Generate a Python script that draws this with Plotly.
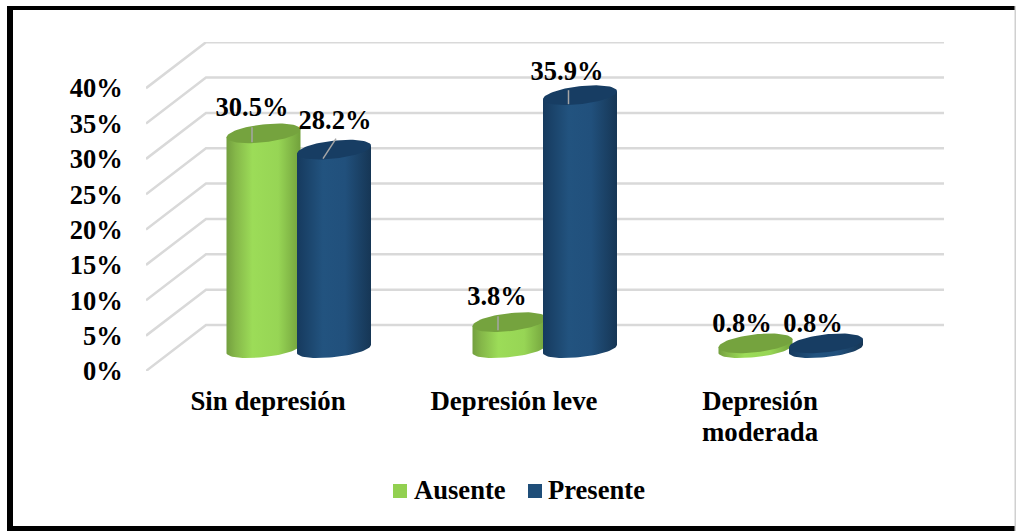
import numpy as np
import plotly.graph_objects as go

# Chart data
categories = ["Sin depresión", "Depresión leve", "Depresión moderada"]
series_names = ["Ausente", "Presente"]
ausente = [30.5, 3.8, 0.8]
presente = [28.2, 35.9, 0.8]
tick_values = [0, 5, 10, 15, 20, 25, 30, 35, 40]
tick_labels = ["0%", "5%", "10%", "15%", "20%", "25%", "30%", "35%", "40%"]

# Frame of the plot in pixels
W, H = 1016, 531
LEFT, RIGHT, TOP, BOTTOM = 146, 944, 42, 371
PX_PER_CAT = 246.0
PX_PER_PCT = 7.07
X0_PX = 268.0  # pixel position of the first category tick

XMIN = (LEFT - X0_PX) / PX_PER_CAT
XMAX = (RIGHT - X0_PX) / PX_PER_CAT
YMAX = (BOTTOM - TOP) / PX_PER_PCT


def dx(px):
    return px / PX_PER_CAT


def dy(px):
    return px / PX_PER_PCT


def px_x(p):
    return (p - LEFT) / (RIGHT - LEFT)


def px_y(p):
    return (BOTTOM - p) / (BOTTOM - TOP)


# Oblique projection of the depth axis
DEPTH_X = dx(60)
DEPTH_Y = dy(46)

# Cylinder geometry (pixels)
RADIUS = 37.0
MINOR_TOP = 9.0
MINOR_BASE = 8.2
TILT = 4.0
BASE_X = dx(30)
BASE_Y = dy(22)
SERIES_SHIFT = {"Ausente": dx(-34.5), "Presente": dx(36)}

GREEN_SIDE = [[0, "#739f3f"], [0.12, "#85b749"], [0.35, "#9cdc58"], [0.7, "#97d555"], [1, "#72a13c"]]
BLUE_SIDE = [[0, "#163a5e"], [0.35, "#22537f"], [0.65, "#21507c"], [1, "#163655"]]
GREEN_TOP = "#75a33e"
BLUE_TOP = "#173d63"
GREEN_KEY = "#92d050"
BLUE_KEY = "#1f4e79"


def rim(cx, level, t, minor):
    """Points of a tilted ellipse centred on (cx, level) in data units."""
    x = cx + dx(RADIUS) * np.cos(t)
    y = level + dy(TILT) * np.cos(t) - dy(minor) * np.sin(t)
    return x, y


fig = go.Figure()

# Receding grid: diagonal on the side wall, then across the back wall
grid_x, grid_y = [], []
for v in tick_values:
    grid_x += [XMIN, XMIN + DEPTH_X, XMAX, None]
    grid_y += [v, v + DEPTH_Y, v + DEPTH_Y, None]
fig.add_trace(go.Scatter(x=grid_x, y=grid_y, mode="lines", cliponaxis=False,
                         line=dict(color="#d9d9d9", width=2.5),
                         hoverinfo="skip", showlegend=False))


def add_cylinder(cx, value, side, top):
    base = BASE_Y
    level = base + value
    lower = np.linspace(0, np.pi, 40)
    bx, by = rim(cx, base, lower, MINOR_BASE)
    tx, ty = rim(cx, level, np.array([np.pi, 0.0]), MINOR_TOP)
    xs = np.concatenate([bx, tx, bx[:1]])
    ys = np.concatenate([by, ty, by[:1]])
    fig.add_trace(go.Scatter(x=xs, y=ys, mode="lines", fill="toself", cliponaxis=False,
                             line=dict(width=0),
                             fillgradient=dict(type="horizontal", colorscale=side),
                             hoverinfo="skip", showlegend=False))
    around = np.linspace(0, 2 * np.pi, 80)
    ex, ey = rim(cx, level, around, MINOR_TOP)
    fig.add_trace(go.Scatter(x=ex, y=ey, mode="lines", fill="toself", fillcolor=top,
                             cliponaxis=False, line=dict(width=0, color=top),
                             hoverinfo="skip", showlegend=False))


for i in range(len(categories)):
    add_cylinder(i + BASE_X + SERIES_SHIFT["Ausente"], ausente[i], GREEN_SIDE, GREEN_TOP)
    add_cylinder(i + BASE_X + SERIES_SHIFT["Presente"], presente[i], BLUE_SIDE, BLUE_TOP)

# Leader lines from the labels down onto the cylinder tops (pixel offsets from the top centre)
leaders = [
    ("Ausente", 0, ausente[0], (-11.5, 9), (-11.5, -6)),
    ("Presente", 0, presente[0], (-11, 9), (2, -11)),
    ("Ausente", 1, ausente[1], (-11.5, 8), (-11.5, -6)),
    ("Presente", 1, presente[1], (-11.5, 9), (-11.5, -5)),
]
for name, i, value, p0, p1 in leaders:
    cx = i + BASE_X + SERIES_SHIFT[name]
    fig.add_trace(go.Scatter(
        x=[cx + dx(p0[0]), cx + dx(p1[0])],
        y=[BASE_Y + value - dy(p0[1]), BASE_Y + value - dy(p1[1])],
        mode="lines", cliponaxis=False, line=dict(color="#a6a6a6", width=1.5),
        hoverinfo="skip", showlegend=False))

# Value labels, nudged off the cylinder tops
label_nudge = {
    "Ausente": [(-11.5, 24), (-12.5, 24), (-13.5, 18)],
    "Presente": [(1, 27), (-13, 22), (-13, 18)],
}
for name, values in (("Ausente", ausente), ("Presente", presente)):
    lx = [i + BASE_X + SERIES_SHIFT[name] + dx(label_nudge[name][i][0]) for i in range(len(values))]
    ly = [BASE_Y + v + dy(label_nudge[name][i][1]) for i, v in enumerate(values)]
    fig.add_trace(go.Scatter(x=lx, y=ly, mode="text", cliponaxis=False,
                             text=[f"{v:.1f}%" for v in values],
                             textposition="middle center",
                             textfont=dict(family="Liberation Serif", size=26.5, color="#000000", weight="bold"),
                             hoverinfo="skip", showlegend=False))

# Black border around the whole graphic
border = [(7, 6, 13, 531), (7, 6, 1015, 10), (7, 526, 1015, 531)]
shapes = [dict(type="rect", xref="paper", yref="paper", x0=px_x(a), x1=px_x(c), y0=px_y(b), y1=px_y(d),
               fillcolor="#000000", line=dict(width=0), layer="above") for a, b, c, d in border]
shapes.append(dict(type="rect", xref="paper", yref="paper", x0=px_x(1014.5), x1=px_x(1016), y0=px_y(6), y1=px_y(531),
                   fillcolor="#d0d0d0", line=dict(width=0), layer="above"))

# Series key below the plot: a square followed by the series name
annotations = []
for name, colour, key_px, text_px in zip(series_names, (GREEN_KEY, BLUE_KEY), (393, 528), (413, 547)):
    shapes.append(dict(type="rect", xref="paper", yref="paper", x0=px_x(key_px), x1=px_x(key_px + 14),
                       y0=px_y(484), y1=px_y(498), fillcolor=colour, line=dict(width=0), layer="above"))
    annotations.append(dict(xref="paper", yref="paper", x=px_x(text_px), y=px_y(490),
                            text=name, showarrow=False, xanchor="left", yanchor="middle",
                            xshift=0, borderpad=0,
                            font=dict(family="Liberation Serif", size=26.6, color="#000000", weight="bold")))

# The last category wraps onto a second line set a little tighter than the tick font's leading
tick_text = [c.split(" ")[0] if c.endswith("moderada") else c for c in categories]
annotations.append(dict(xref="x", yref="paper", x=2, y=px_y(432), text=categories[2].split(" ")[1],
                        showarrow=False, xanchor="center", yanchor="middle", borderpad=0,
                        font=dict(family="Liberation Serif", size=26.8, color="#000000", weight="bold")))

AXIS_FONT = dict(family="Liberation Serif", size=26.5, color="#000000", weight="bold")
fig.update_layout(
    width=W, height=H, autosize=False,
    margin=dict(l=LEFT, r=W - RIGHT, t=TOP, b=H - BOTTOM, pad=0),
    paper_bgcolor="#ffffff", plot_bgcolor="#ffffff",
    shapes=shapes,
    annotations=annotations,
    showlegend=False,
    xaxis=dict(range=[XMIN, XMAX], tickmode="array", tickvals=list(range(len(categories))),
               ticktext=tick_text, showgrid=False, zeroline=False, showline=False,
               ticks="outside", ticklen=6, tickcolor="rgba(0,0,0,0)",
               tickfont=dict(family="Liberation Serif", size=26.8, color="#000000", weight="bold"),
               tickangle=0),
    yaxis=dict(range=[0, YMAX], tickmode="array", tickvals=tick_values, ticktext=tick_labels,
               showgrid=False, zeroline=False, showline=False,
               ticks="outside", ticklen=17, tickcolor="rgba(0,0,0,0)", tickfont=AXIS_FONT),
)

fig.write_html("out.html", config={"displayModeBar": False})
